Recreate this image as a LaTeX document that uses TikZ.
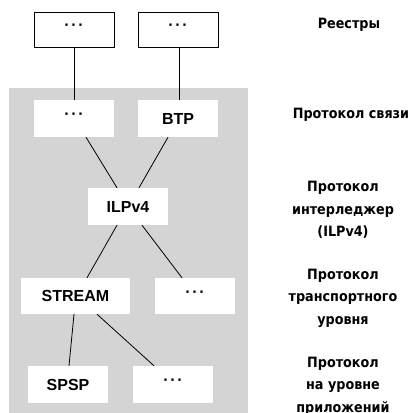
\documentclass[tikz,border=0pt]{standalone}
\usepackage{fontspec}
\setmainfont{Liberation Sans}
\newfontfamily\rfont{DejaVu Sans Condensed}
\usetikzlibrary{calc}
\definecolor{bggray}{RGB}{212,212,212}
\tikzset{
  box/.style={rectangle, minimum width=80pt, minimum height=37pt, inner sep=0pt, fill=white,
    font=\fontsize{16}{18}\selectfont\bfseries},
  topbox/.style={box, draw=black, line width=0.8pt, minimum height=35pt},
  conn/.style={draw=black, line width=0.8pt},
  side/.style={align=center, font=\rfont\fontsize{14.2}{22.5}\selectfont\bfseries, inner sep=0pt}
}
\newcommand{\dotsx}{\raisebox{4.5pt}{·\kern1.6pt·\kern1.6pt·}}
\begin{document}
\begin{tikzpicture}[x=1pt,y=-1pt]
\useasboundingbox (0,0) rectangle (410,413);
\fill[bggray] (9,88) rectangle (248,413);

\node[topbox] (r1) at (74,29.5) {\dotsx};
\node[topbox] (r2) at (178,29.5) {\dotsx};

\node[box] (c1) at (74,118.5) {\dotsx};
\node[box] (c2) at (178,118.5) {BTP};

\node[box] (ilp) at (128,206.5) {ILPv4};

\node[box, minimum width=109pt, minimum height=36pt] (st) at (75.5,296) {STREAM};
\node[box, minimum height=36pt] (t2) at (195,296) {\dotsx};

\node[box] (spsp) at (68,384.5) {SPSP};
\node[box] (a2) at (173,384.5) {\dotsx};

\draw[conn] (r1.south) -- (c1.north);
\draw[conn] ([xshift=1pt]r2.south) -- ([xshift=1pt]c2.north);
\draw[conn] ([xshift=12pt]c1.south) -- ([xshift=-11pt]ilp.north);
\draw[conn] ([xshift=-10pt]c2.south) -- ([xshift=11pt]ilp.north);
\draw[conn] ([xshift=-11pt]ilp.south) -- ([xshift=11.5pt]st.north);
\draw[conn] ([xshift=14pt]ilp.south) -- ([xshift=-13pt]t2.north);
\draw[conn] ([xshift=-1.5pt]st.south) -- ([xshift=1pt]spsp.north);
\draw[conn] ([xshift=21.5pt]st.south) -- ([xshift=-19pt]a2.north);

\node[side] (l1) at (349,25) {Реестры};
\node[side] (l2) at (351,115) {Протокол связи};
\node[side] (l3) at (343,210) {Протокол\\интерледжер\\(ILPv4)};
\node[side] (l4) at (343,298) {Протокол\\транспортного\\уровня};
\node[side] (l5) at (343,386) {Протокол\\на уровне\\приложений};
\end{tikzpicture}
\end{document}
